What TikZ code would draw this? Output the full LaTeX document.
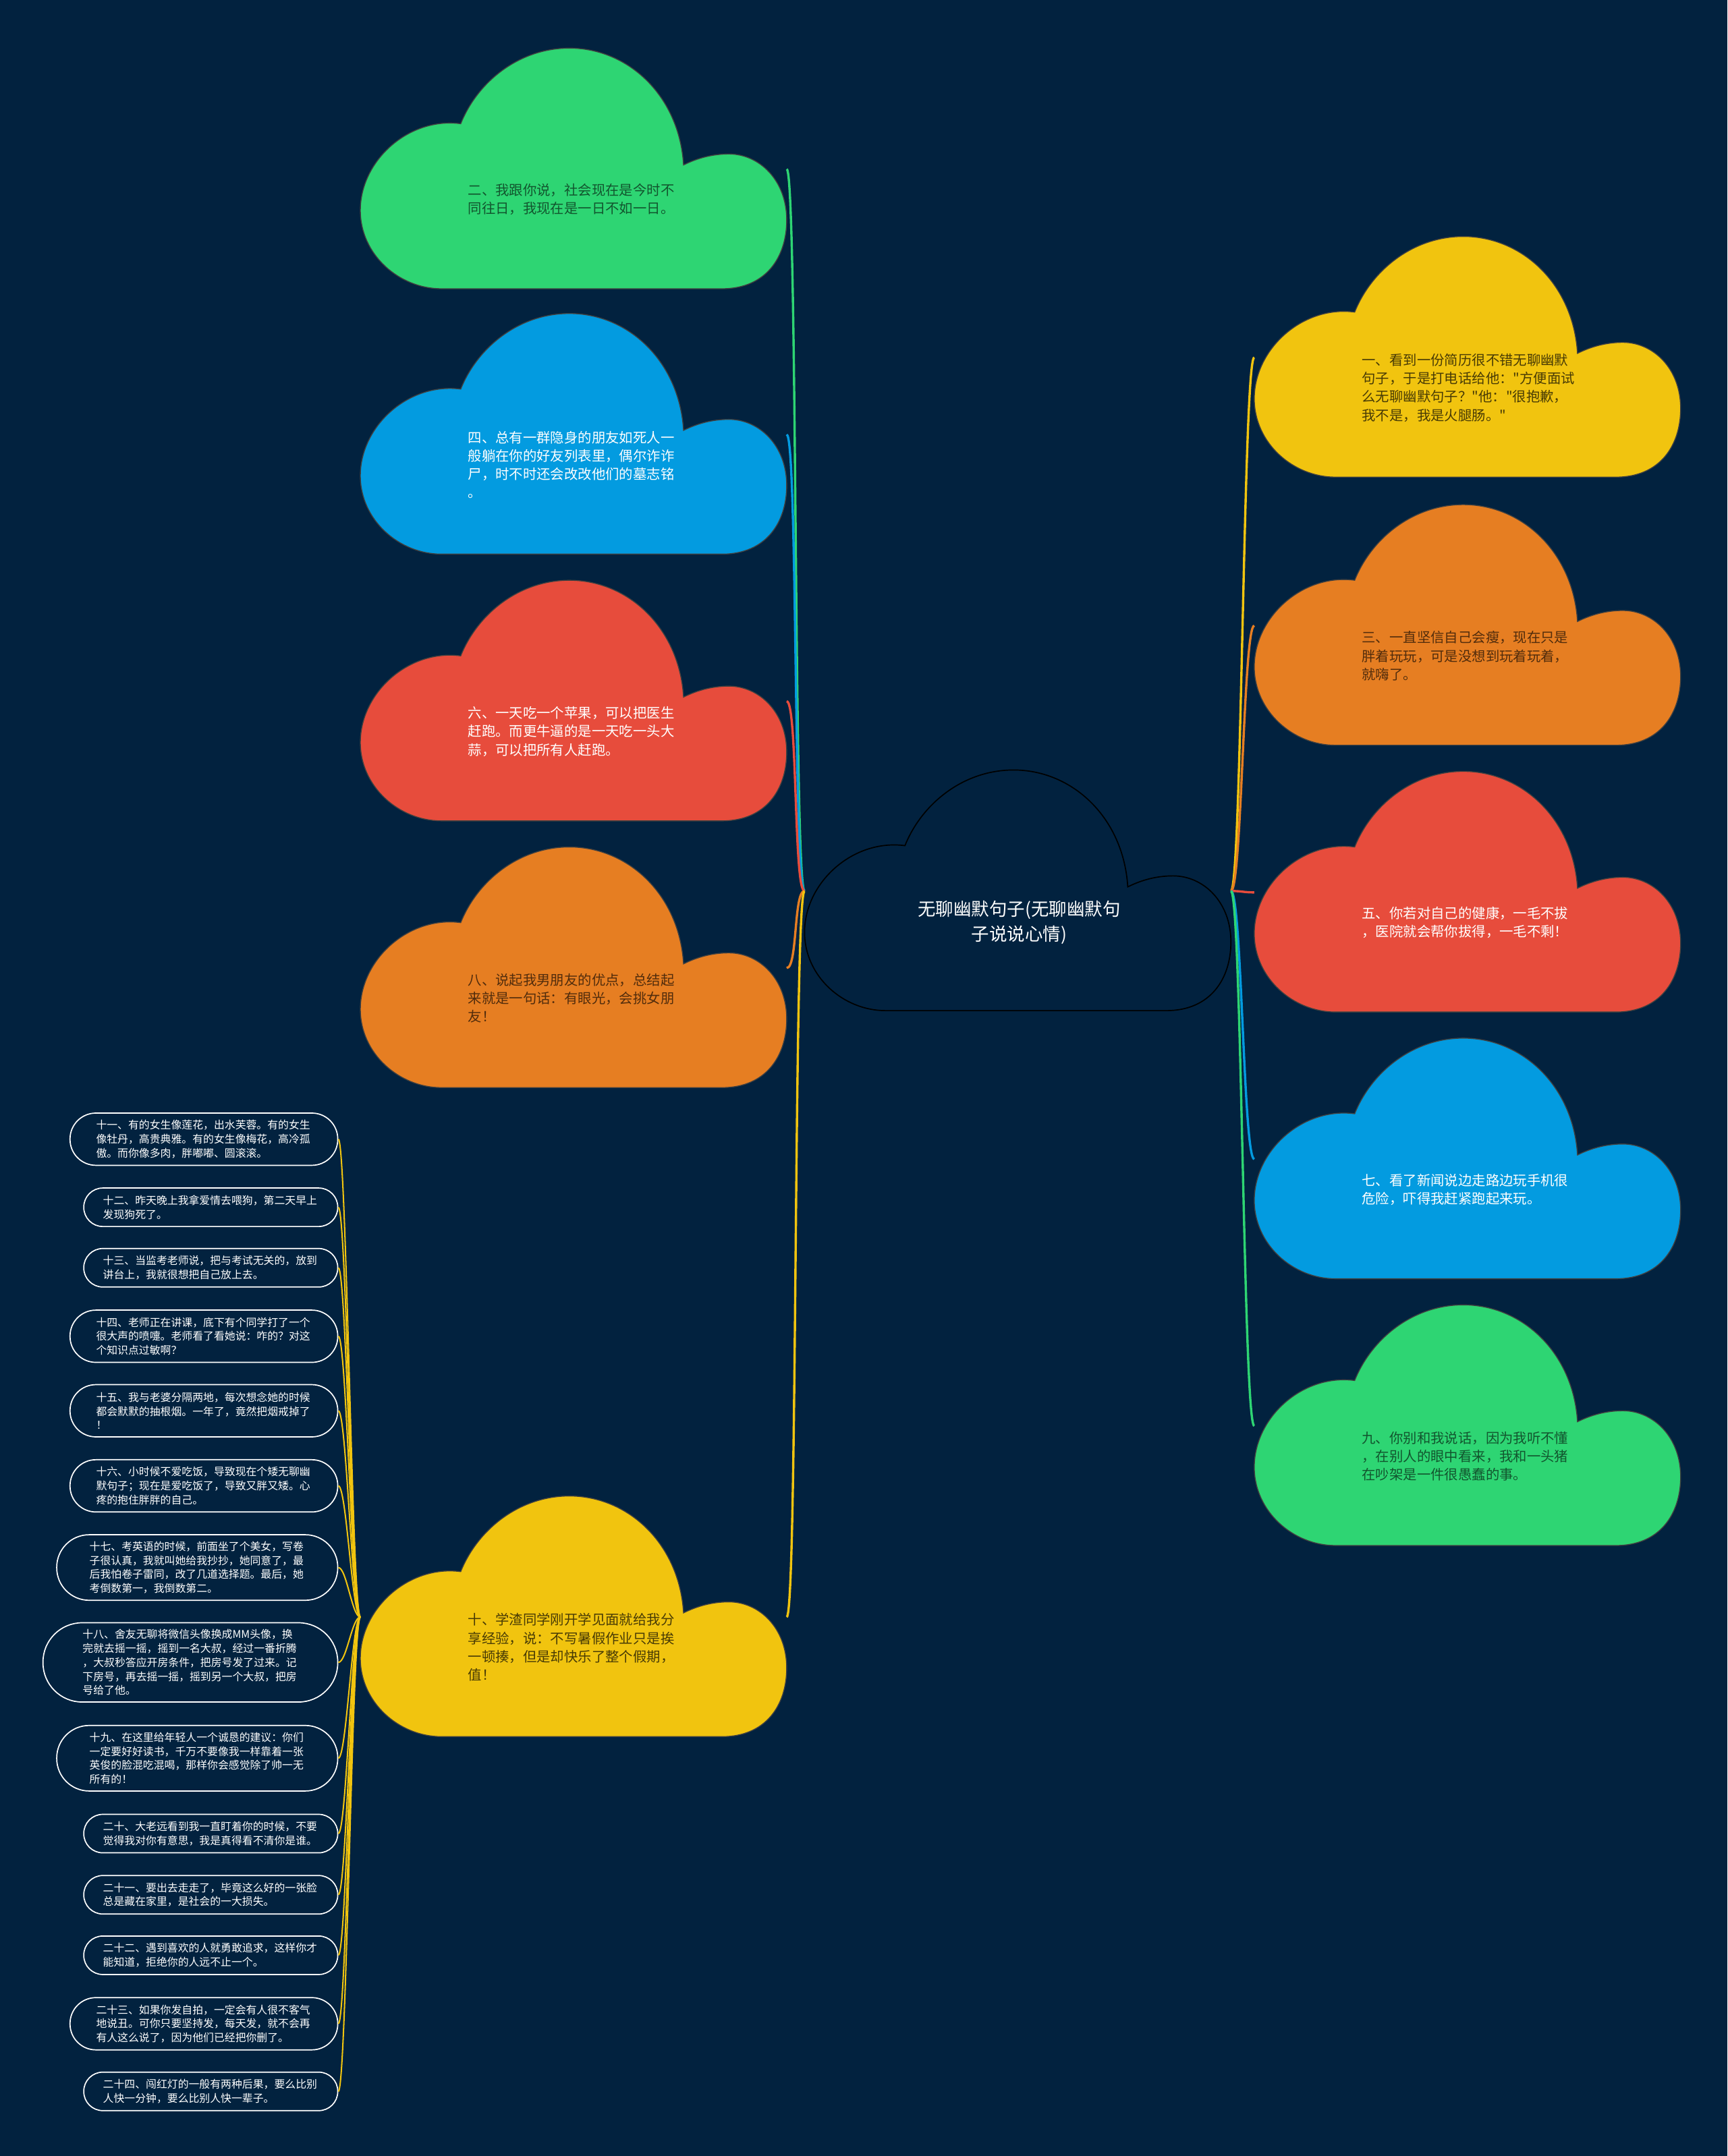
\documentclass[tikz,border=0pt]{standalone}
\usepackage{fontspec}
\setmainfont{Noto Sans CJK SC}[Ligatures=TeXOff]
\usetikzlibrary{calc}
\definecolor{bg}{HTML}{02223F}
\definecolor{cgreen}{HTML}{2ED573}
\definecolor{cblue}{HTML}{039BE0}
\definecolor{cred}{HTML}{E74C3C}
\definecolor{corange}{HTML}{E67E22}
\definecolor{cyellow}{HTML}{F1C40F}

\tikzset{
  cloudshape/.pic={
    \path[pic actions] (59,175) -- (263,175)
      .. controls (295,175) and (310,152) .. (310,125)
      .. controls (310,96) and (290,77) .. (268,77)
      .. controls (256,77) and (245,80) .. (235,85)
      .. controls (232,35) and (195,0) .. (152,0)
      .. controls (115,0) and (85,25) .. (73,55)
      .. controls (35,50) and (0,82) .. (0,118)
      .. controls (0,150) and (28,175) .. (59,175) -- cycle;
    \coordinate (-w) at (0,88);
    \coordinate (-e) at (310,88);
    \coordinate (-t) at (78,110);
    \coordinate (-c) at (156,111);
  }
}

\begin{document}
\begin{tikzpicture}[
  x=0.6pt, y=-0.6pt,
  cloudfill/.style={draw=black!75, line width=0.4pt},
  cloudtxt/.style={anchor=west, align=left, inner sep=0pt, font=\fontsize{6pt}{8pt}\selectfont},
  roottxt/.style={align=center, inner sep=0pt, text=white, font=\fontsize{7.8pt}{10.8pt}\selectfont},
  pill/.style={rectangle, draw=white, line width=0.5pt, text=white, anchor=east,
    text width=94pt, align=left, inner xsep=#1pt, inner ysep=1pt, minimum height=2*#1pt,
    rounded corners=0.99*#1pt, font=\fontsize{4.67pt}{6.1pt}\selectfont},
  link/.style={line width=1pt},
  twig/.style={line width=0.6pt, draw=cyellow},
]
\fill[bg] (0,0) rectangle (1256,1568);
\useasboundingbox (0,0) rectangle (1256,1568);

% clouds
\pic[draw=black, line width=0.5pt] (topic) at (585,560) {cloudshape};
\pic[cloudfill, fill=cgreen] (s2) at (262,35) {cloudshape};
\pic[cloudfill, fill=cblue] (s4) at (262,228) {cloudshape};
\pic[cloudfill, fill=cred] (s6) at (262,422) {cloudshape};
\pic[cloudfill, fill=corange] (s8) at (262,616) {cloudshape};
\pic[cloudfill, fill=cyellow] (s10) at (262,1088) {cloudshape};
\pic[cloudfill, fill=cyellow] (s1) at (912,172) {cloudshape};
\pic[cloudfill, fill=corange] (s3) at (912,367) {cloudshape};
\pic[cloudfill, fill=cred] (s5) at (912,561) {cloudshape};
\pic[cloudfill, fill=cblue] (s7) at (912,755) {cloudshape};
\pic[cloudfill, fill=cgreen] (s9) at (912,949) {cloudshape};

\node[roottxt] (title) at (topic-c) {无聊幽默句子(无聊幽默句\\子说说心情)};

\node[cloudtxt, text=cgreen!40!black] (t2) at (s2-t) {二、我跟你说，社会现在是今时不\\同往日，我现在是一日不如一日。};
\node[cloudtxt, text=white] (t4) at (s4-t) {四、总有一群隐身的朋友如死人一\\般躺在你的好友列表里，偶尔诈诈\\尸，时不时还会改改他们的墓志铭\\。};
\node[cloudtxt, text=white] (t6) at (s6-t) {六、一天吃一个苹果，可以把医生\\赶跑。而更牛逼的是一天吃一头大\\蒜，可以把所有人赶跑。};
\node[cloudtxt, text=corange!35!black] (t8) at (s8-t) {八、说起我男朋友的优点，总结起\\来就是一句话：有眼光，会挑女朋\\友！};
\node[cloudtxt, text=cyellow!30!black] (t10) at (s10-t) {十、学渣同学刚开学见面就给我分\\享经验，说：不写暑假作业只是挨\\一顿揍，但是却快乐了整个假期，\\值！};
\node[cloudtxt, text=cyellow!30!black] (t1) at (s1-t) {一、看到一份简历很不错无聊幽默\\句子，于是打电话给他："方便面试\\么无聊幽默句子？"他："很抱歉，\\我不是，我是火腿肠。"};
\node[cloudtxt, text=corange!35!black] (t3) at (s3-t) {三、一直坚信自己会瘦，现在只是\\胖着玩玩，可是没想到玩着玩着，\\就嗨了。};
\node[cloudtxt, text=white] (t5) at (s5-t) {五、你若对自己的健康，一毛不拔\\，医院就会帮你拔得，一毛不剩！};
\node[cloudtxt, text=white] (t7) at (s7-t) {七、看了新闻说边走路边玩手机很\\危险，吓得我赶紧跑起来玩。};
\node[cloudtxt, text=cgreen!40!black] (t9) at (s9-t) {九、你别和我说话，因为我听不懂\\，在别人的眼中看来，我和一头猪\\在吵架是一件很愚蠢的事。};

% small items
\node[pill=11.4] (p11) at (246,828.5) {十一、有的女生像莲花，出水芙蓉。有的女生\\像牡丹，高贵典雅。有的女生像梅花，高冷孤\\傲。而你像多肉，胖嘟嘟、圆滚滚。};
\node[pill=8.4] (p12) at (246,878) {十二、昨天晚上我拿爱情去喂狗，第二天早上\\发现狗死了。};
\node[pill=8.4] (p13) at (246,922) {十三、当监考老师说，把与考试无关的，放到\\讲台上，我就很想把自己放上去。};
\node[pill=11.4] (p14) at (246,971.8) {十四、老师正在讲课，底下有个同学打了一个\\很大声的喷嚏。老师看了看她说：咋的？对这\\个知识点过敏啊？};
\node[pill=11.4] (p15) at (246,1026) {十五、我与老婆分隔两地，每次想念她的时候\\都会默默的抽根烟。一年了，竟然把烟戒掉了\\！};
\node[pill=11.4] (p16) at (246,1080.6) {十六、小时候不爱吃饭，导致现在个矮无聊幽\\默句子；现在是爱吃饭了，导致又胖又矮。心\\疼的抱住胖胖的自己。};
\node[pill=14.3] (p17) at (246,1140) {十七、考英语的时候，前面坐了个美女，写卷\\子很认真，我就叫她给我抄抄，她同意了，最\\后我怕卷子雷同，改了几道选择题。最后，她\\考倒数第一，我倒数第二。};
\node[pill=17.3] (p18) at (246,1209) {十八、舍友无聊将微信头像换成MM头像，换\\完就去摇一摇，摇到一名大叔，经过一番折腾\\，大叔秒答应开房条件，把房号发了过来。记\\下房号，再去摇一摇，摇到另一个大叔，把房\\号给了他。};
\node[pill=14.3] (p19) at (246,1278.7) {十九、在这里给年轻人一个诚恳的建议：你们\\一定要好好读书，千万不要像我一样靠着一张\\英俊的脸混吃混喝，那样你会感觉除了帅一无\\所有的！};
\node[pill=8.4] (p20) at (246,1333.5) {二十、大老远看到我一直盯着你的时候，不要\\觉得我对你有意思，我是真得看不清你是谁。};
\node[pill=8.4] (p21) at (246,1378) {二十一、要出去走走了，毕竟这么好的一张脸\\总是藏在家里，是社会的一大损失。};
\node[pill=8.4] (p22) at (246,1422) {二十二、遇到喜欢的人就勇敢追求，这样你才\\能知道，拒绝你的人远不止一个。};
\node[pill=11.4] (p23) at (246,1471.8) {二十三、如果你发自拍，一定会有人很不客气\\地说丑。可你只要坚持发，每天发，就不会再\\有人这么说了，因为他们已经把你删了。};
\node[pill=8.4] (p24) at (246,1521) {二十四、闯红灯的一般有两种后果，要么比别\\人快一分钟，要么比别人快一辈子。};

% links
\draw[link, cgreen] (topic-w) .. controls +(-8,0) and +(8,0) .. (s2-e);
\draw[link, cblue] (topic-w) .. controls +(-8,0) and +(8,0) .. (s4-e);
\draw[link, cred] (topic-w) .. controls +(-8,0) and +(8,0) .. (s6-e);
\draw[link, corange] (topic-w) .. controls +(-8,0) and +(8,0) .. (s8-e);
\draw[link, cyellow] (topic-w) .. controls +(-8,0) and +(8,0) .. (s10-e);
\draw[link, cyellow] (topic-e) .. controls +(8,0) and +(-8,0) .. (s1-w);
\draw[link, corange] (topic-e) .. controls +(8,0) and +(-8,0) .. (s3-w);
\draw[link, cred] (topic-e) .. controls +(8,0) and +(-8,0) .. (s5-w);
\draw[link, cblue] (topic-e) .. controls +(8,0) and +(-8,0) .. (s7-w);
\draw[link, cgreen] (topic-e) .. controls +(8,0) and +(-8,0) .. (s9-w);

\foreach \p in {p11,p12,p13,p14,p15,p16,p17,p18,p19,p20,p21,p22,p23,p24}
  \draw[twig] (s10-w) .. controls +(-6,0) and +(6,0) .. (\p.east);

\end{tikzpicture}
\end{document}
